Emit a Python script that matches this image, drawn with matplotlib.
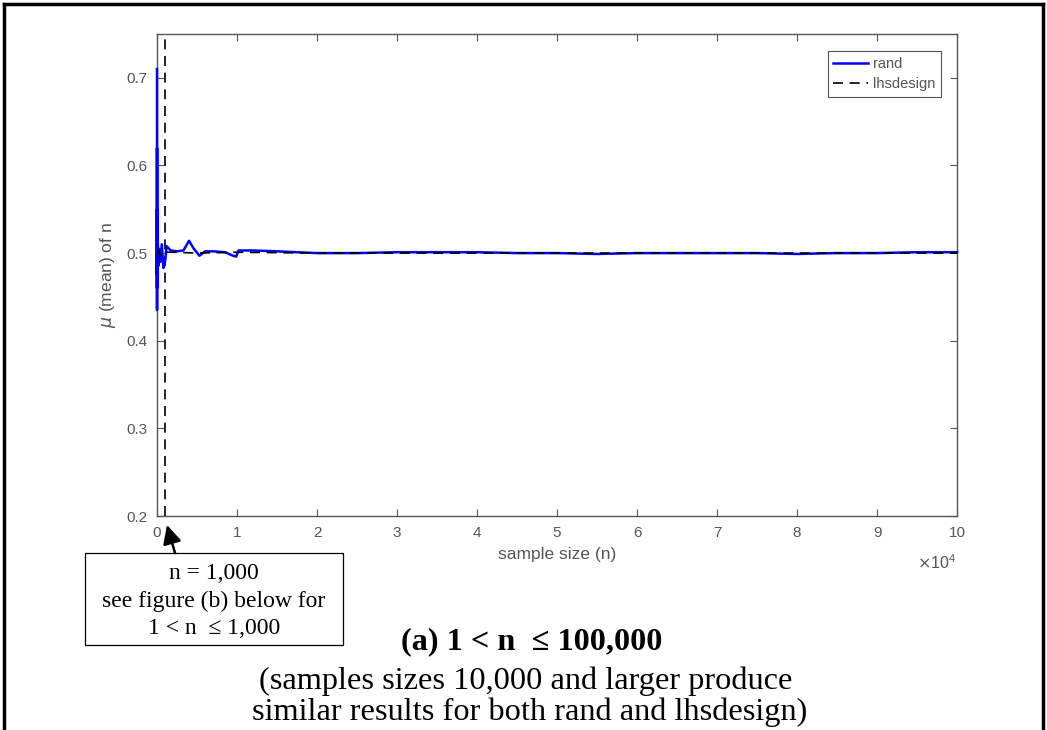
import matplotlib
matplotlib.use('Agg')
import matplotlib.pyplot as plt
from matplotlib.lines import Line2D
from matplotlib.patches import Rectangle

# 数据
n_rand = [1, 3, 5, 8, 12, 20, 35, 60, 100, 150, 250, 400, 600, 800, 1000,
          1200, 1700, 2500, 3300, 4000, 4600, 5300, 6000, 7000, 8500, 9500,
          9900, 10200, 12000, 15000, 20000, 25000, 30000, 35000, 40000, 45000,
          50000, 55000, 60000, 65000, 70000, 75000, 80000, 85000, 90000, 95000,
          100000]
mu_rand = [0.71, 0.435, 0.62, 0.46, 0.55, 0.475, 0.52, 0.48, 0.51, 0.485,
           0.505, 0.49, 0.51, 0.483, 0.49, 0.508, 0.503, 0.502, 0.503, 0.514,
           0.505, 0.497, 0.502, 0.502, 0.501, 0.497, 0.496, 0.503, 0.503,
           0.502, 0.500, 0.500, 0.501, 0.501, 0.501, 0.500, 0.500, 0.499,
           0.500, 0.500, 0.500, 0.500, 0.499, 0.500, 0.500, 0.501, 0.501]

n_lhs = [1, 5, 20, 60, 150, 400, 1000, 2000, 5000, 10000, 20000, 40000,
         60000, 80000, 100000]
mu_lhs = [0.515, 0.485, 0.508, 0.492, 0.503, 0.497, 0.501, 0.501, 0.500,
          0.501, 0.500, 0.500, 0.500, 0.500, 0.500]

n_mark = 1000
xticks = [0, 10000, 20000, 30000, 40000, 50000, 60000, 70000, 80000, 90000, 100000]
xticklabels = ['0', '1', '2', '3', '4', '5', '6', '7', '8', '9', '10']
yticks = [0.2, 0.3, 0.4, 0.5, 0.6, 0.7]

W, H = 1047, 730
gray = '#555555'
sans = ['Liberation Sans', 'DejaVu Sans']
serif = ['Liberation Serif', 'DejaVu Serif']


def fx(px):
    return px / W


def fy(py):
    return 1 - py / H


fig = plt.figure(figsize=(W / 100, H / 100), dpi=100)
ax = fig.add_axes([fx(157), fy(516), (957 - 157) / W, (516 - 34) / H])

ax.plot(n_rand, mu_rand, color='#0000ff', lw=1.8, label='rand', zorder=3,
        clip_on=False)
ax.plot(n_lhs, mu_lhs, color='black', lw=1.2, ls=(0, (6, 4)), label='lhsdesign',
        zorder=4)
ax.axvline(n_mark, color='black', lw=1.2, ls=(0, (6, 4)))

ax.set_xlim(0, 100000)
ax.set_ylim(0.2, 0.75)
ax.set_xticks(xticks)
ax.set_xticklabels(xticklabels)
ax.set_yticks(yticks)
ax.set_yticklabels(['%.1f' % v for v in yticks])
ax.tick_params(direction='in', top=True, right=True, length=5, width=0.8,
               colors=gray, labelsize=11, pad=7)
for lab in ax.get_xticklabels() + ax.get_yticklabels():
    lab.set_family(sans)
for sp in ax.spines.values():
    sp.set_color(gray)
    sp.set_linewidth(1.0)

ax.set_xlabel('sample size (n)', family=sans, fontsize=12.5, color=gray, labelpad=5)
ax.set_ylabel(r'$\mu$ (mean) of n', family=sans, fontsize=12.5, color=gray, labelpad=6)
fig.text(fx(937), fy(563), r'$\times\mathregular{10^{4}}$', family=sans, fontsize=11.5,
         color=gray, ha='center', va='center')

leg = ax.legend(loc='upper right', bbox_to_anchor=(fx(941), fy(51)),
                bbox_transform=fig.transFigure, prop={'family': sans, 'size': 10.5},
                frameon=True, fancybox=False, framealpha=1, handlelength=2.4,
                borderpad=0.4, labelspacing=0.4, handletextpad=0.3,
                borderaxespad=0)
leg.get_frame().set_edgecolor(gray)
leg.get_frame().set_linewidth(0.8)
for t in leg.get_texts():
    t.set_color(gray)

# 注释框和箭头
fig.patches.append(Rectangle((fx(85), fy(645)), (343 - 85) / W, (645 - 553) / H,
                             transform=fig.transFigure, fill=False,
                             edgecolor='black', lw=0.9))
fig.text(fx(214), fy(601), 'n = 1,000\nsee figure (b) below for\n1 < n  ≤ 1,000',
         family=serif, fontsize=17, ha='center', va='center', linespacing=1.42)
ax.annotate('', xy=(fx(167), fy(525)), xycoords='figure fraction',
            xytext=(fx(175), fy(553)), textcoords='figure fraction',
            arrowprops=dict(arrowstyle='-|>', color='black', lw=1.8,
                            mutation_scale=28, shrinkA=0, shrinkB=0),
            annotation_clip=False)

# 标题说明
fig.text(fx(532), fy(642), '(a) 1 < n  ≤ 100,000', family=serif, fontsize=23.2,
         fontweight='bold', ha='center', va='center')
fig.text(fx(526), fy(681), '(samples sizes 10,000 and larger produce',
         family=serif, fontsize=23.3, ha='center', va='center')
fig.text(fx(530), fy(712), 'similar results for both rand and lhsdesign)',
         family=serif, fontsize=23.3, ha='center', va='center')

# 外框
fig.add_artist(Line2D([fx(4), fx(1043)], [fy(4), fy(4)], color='black', lw=2.5))
fig.add_artist(Line2D([fx(4), fx(4)], [fy(4), 0], color='black', lw=2.5))
fig.add_artist(Line2D([fx(1043), fx(1043)], [fy(4), 0], color='black', lw=2.5))

fig.savefig('out.png', dpi=100)
